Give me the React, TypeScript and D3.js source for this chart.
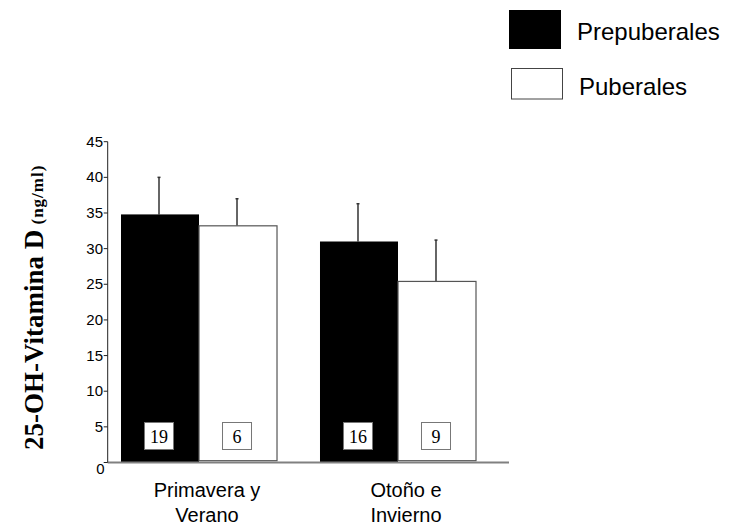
import React from "react";
import * as d3 from "d3";

const categories = ["Primavera y|Verano", "Otoño e|Invierno"];
const seriesNames = ["Prepuberales", "Puberales"];
const seriesFill = ["#000000", "#ffffff"];
const prepuberalesMean = [34.8, 31.0];
const prepuberalesErr = [5.2, 5.3];
const puberalesMean = [33.2, 25.4];
const puberalesErr = [3.8, 5.8];
const counts = [[19, 6], [16, 9]];
const yTicks = [0, 5, 10, 15, 20, 25, 30, 35, 40, 45];

export default function App() {
  const W = 730, H = 532;
  const axisX = 107.7;
  const y = d3.scaleLinear().domain([0, 45]).range([462.5, 141.7]);
  const x0 = d3.scaleBand<string>().domain(categories).range([121, 476]).paddingInner(0.216).paddingOuter(0);
  const x1 = d3.scaleBand<string>().domain(seriesNames).range([0, x0.bandwidth()]);
  const means = [prepuberalesMean, puberalesMean];
  const errs = [prepuberalesErr, puberalesErr];
  const sans = "'Liberation Sans', Arial, sans-serif";
  const serif = "'Liberation Serif', 'Times New Roman', serif";

  return (
    <svg width={W} height={H} style={{ position: "absolute", left: 0, top: 0, background: "#fff" }}>
      <rect x={0} y={0} width={W} height={H} fill="#fff" />
      {categories.map((c, ci) => (
        <g key={c} transform={`translate(${x0(c)},0)`}>
          {seriesNames.map((s, si) => {
            const v = means[si][ci];
            const e = errs[si][ci];
            const bx = x1(s)!;
            const bw = x1.bandwidth();
            const cx = bx + bw / 2 - 1;
            return (
              <g key={s}>
                <line x1={cx} x2={cx} y1={y(v)} y2={y(v + e)} stroke="#333" strokeWidth={1.5} />
                <line x1={cx - 1.5} x2={cx + 1.5} y1={y(v + e)} y2={y(v + e)} stroke="#333" strokeWidth={1.5} />
                {si === 0 ? (
                  <rect x={bx} y={y(v)} width={bw} height={y(0) - y(v)} fill={seriesFill[si]} />
                ) : (
                  <rect x={bx} y={y(v)} width={bw} height={y(0) - y(v) - 1.8} fill={seriesFill[si]} stroke="#555" strokeWidth={1.2} />
                )}
                <rect x={cx - 14.5} y={y(0) - 40} width={29} height={27} fill="#fff" stroke="#777" strokeWidth={1} />
                <text x={cx} y={y(0) - 20} textAnchor="middle" fontFamily={serif} fontSize={18} fill="#000">
                  {counts[ci][si]}
                </text>
              </g>
            );
          })}
        </g>
      ))}
      <line x1={axisX} x2={509} y1={y(0)} y2={y(0)} stroke="#808080" strokeWidth={2} />
      <line x1={axisX} x2={axisX} y1={y(45)} y2={y(0)} stroke="#222" strokeWidth={1} />
      {yTicks.map((t) => (
        <g key={t}>
          <line x1={axisX - 4} x2={axisX} y1={y(t)} y2={y(t)} stroke="#222" strokeWidth={1} />
          <text x={t === 0 ? 104.5 : 103} y={y(t) + (t === 0 ? 11 : 5)} textAnchor="end" fontFamily={sans} fontSize={15} fill="#000">
            {t}
          </text>
        </g>
      ))}
      <text transform="translate(43,450) rotate(-90)" fontFamily={serif} fontWeight="bold" fill="#000">
        <tspan fontSize={27}>25-OH-Vitamina D</tspan>
        <tspan fontSize={17} letterSpacing={1}> (ng/ml)</tspan>
      </text>
      {categories.map((c) => {
        const cx = x0(c)! + x0.bandwidth() / 2 + 8;
        const lines = c.split("|");
        return (
          <text key={c} x={cx} y={497} textAnchor="middle" fontFamily={sans} fontSize={20} fill="#000">
            {lines.map((l, i) => (
              <tspan key={i} x={cx} dy={i === 0 ? 0 : 24.5}>{l}</tspan>
            ))}
          </text>
        );
      })}
      <rect x={509} y={10} width={52} height={39} fill="#000" />
      <rect x={511.5} y={68.5} width={51} height={30.5} fill="#fff" stroke="#444" strokeWidth={1} />
      <text x={577} y={39.5} fontFamily={sans} fontSize={24} fill="#000">{seriesNames[0]}</text>
      <text x={579} y={95} fontFamily={sans} fontSize={24} fill="#000">{seriesNames[1]}</text>
    </svg>
  );
}
